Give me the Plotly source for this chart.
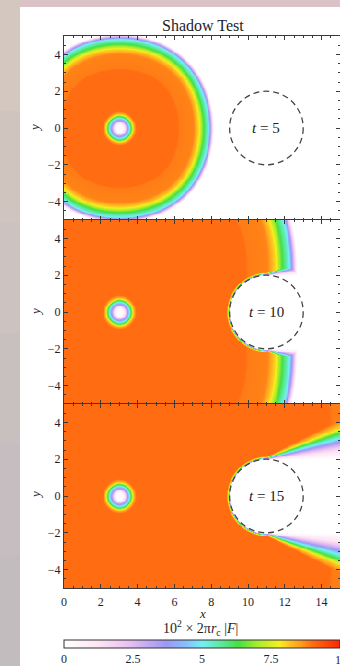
import numpy as np
import plotly.graph_objects as go
from plotly.subplots import make_subplots

# ---------------- data ----------------
times = [5, 10, 15]
panel_text = ["<i>t</i> = 5", "<i>t</i> = 10", "<i>t</i> = 15"]
x_ticks = [0, 2, 4, 6, 8, 10, 12, 14]
y_ticks = [-4, -2, 0, 2, 4]
cbar_ticks = [0, 2.5, 5, 7.5, 10]
cbar_labels = ["0", "2.5", "5", "7.5", "10"]

source_center = [3.0, 0.0]
occluder_center = [11.0, 0.0]
occluder_radius = 2.0

# radiation front (distance from source) for each time
front_radius = [5.12, 9.65, 15.0]
front_diag_excess = [0.12, 1.35, 2.0]
front_width = [1.0, 1.5, 1.9]

# level profile behind the front: depth behind front -> level
front_depth = [0.0, 0.05, 0.15, 0.28, 0.55, 0.82, 0.98, 1.1, 1.85, 1.95]
front_level = [0.0, 1.2, 3.0, 5.0, 6.3, 8.0, 8.45, 8.8, 8.86, 9.0]

# level profile around the source: distance -> level
source_dist = [0.0, 0.2, 0.3, 0.42, 0.54, 0.64, 0.74, 0.82, 0.92]
source_level = [0.0, 0.3, 1.5, 3.5, 5.0, 6.3, 8.0, 8.6, 9.0]

# edge of the occluding disc: gap outside the disc -> level
occluder_gap = [0.0, 0.04, 0.08, 0.12, 0.18]
occluder_level = [0.0, 3.0, 6.0, 8.0, 9.0]

# penumbra behind the disc: slope seen from the tangent point -> level
tangent_point = [10.6, 1.95]
shadow_slope = [0.0, 0.03, 0.12, 0.21, 0.275, 0.34, 0.404, 0.507]
shadow_level = [0.0, 0.2, 1.3, 3.2, 5.0, 6.3, 8.0, 9.0]

# ---------------- field on a grid ----------------
xg = np.linspace(0, 15, 301)
yg = np.linspace(-5, 5, 201)
X, Y = np.meshgrid(xg, yg)


def field(i):
    dx = X - source_center[0]
    dy = Y - source_center[1]
    r = np.hypot(dx, dy)
    th = np.arctan2(np.abs(dy), dx)
    R = front_radius[i] + front_diag_excess[i] * np.sin(2 * th) ** 2
    d = (R - r) / front_width[i]
    v_front = np.interp(d, front_depth, front_level, left=0.0)
    v_src = np.interp(r, source_dist, source_level)
    gap = np.hypot(X - occluder_center[0], Y - occluder_center[1]) - occluder_radius
    v_occ = np.interp(gap, occluder_gap, occluder_level, left=0.0)
    behind = X > tangent_point[0]
    s = (np.abs(Y) - tangent_point[1]) / np.maximum(X - tangent_point[0], 1e-6)
    v_sh = np.where(behind, np.interp(s, shadow_slope, shadow_level, left=0.0), 9.0)
    return np.round(np.minimum.reduce([v_front, v_src, v_occ, v_sh]), 2)


colorscale = [
    [0.00, "#ffffff"],
    [0.12, "#fde6f6"],
    [0.22, "#efc6f2"],
    [0.30, "#c6aaf2"],
    [0.37, "#9c98f6"],
    [0.45, "#86c4fc"],
    [0.50, "#72f0f4"],
    [0.57, "#5ce89c"],
    [0.63, "#44e044"],
    [0.70, "#a8ec2c"],
    [0.78, "#f6f01c"],
    [0.82, "#ffc020"],
    [0.86, "#ff9a1c"],
    [0.90, "#ff6c12"],
    [1.00, "#ff2400"],
]

fig = make_subplots(rows=3, cols=1, shared_xaxes=True, vertical_spacing=0)

serif = "Liberation Serif"
for i, t in enumerate(times):
    fig.add_trace(
        go.Heatmap(x=xg, y=yg, z=field(i), coloraxis="coloraxis",
                   zsmooth="best", hoverinfo="skip"),
        row=i + 1, col=1)
    fig.add_shape(type="circle", x0=occluder_center[0] - occluder_radius,
                  x1=occluder_center[0] + occluder_radius,
                  y0=occluder_center[1] - occluder_radius,
                  y1=occluder_center[1] + occluder_radius,
                  line=dict(color="#444444", width=1.3, dash="6px,4px"),
                  row=i + 1, col=1)
    fig.add_annotation(x=occluder_center[0], y=occluder_center[1], text=panel_text[i],
                       showarrow=False,
                       font=dict(family=serif, size=15, color="#222222"),
                       row=i + 1, col=1)

axis_common = dict(showline=True, linecolor="#3a3a3a", linewidth=1, mirror="ticks",
                   ticks="inside", ticklen=4, tickcolor="#3a3a3a", showgrid=False,
                   zeroline=False,
                   tickfont=dict(family=serif, size=12, color="#1e1e30"))

for i in range(3):
    fig.update_xaxes(range=[0, 15], tickvals=x_ticks,
                     minor=dict(dtick=0.5, ticks="inside", ticklen=2, tickcolor="#3a3a3a"),
                     showticklabels=(i == 2), ticklabelstandoff=3,
                     row=i + 1, col=1, **axis_common)
    fig.update_yaxes(range=[-5, 5], tickvals=y_ticks,
                     minor=dict(dtick=0.5, ticks="inside", ticklen=2, tickcolor="#3a3a3a"),
                     row=i + 1, col=1, **axis_common)

W, H = 340, 666
ml, mr, mt, mb = 64, 0, 36, 78
pw, ph = W - ml - mr, H - mt - mb


def px(xp):
    return (xp - ml) / pw


def py(yp):
    return (H - mb - yp) / ph


# page: grey-beige border, white sheet
shapes = []
left_cols = ["#d4c7bf", "#d0c4bf", "#ccc2bf", "#c8bfbf", "#c5bdbf", "#c3bcbf"]
for k, c in enumerate(left_cols):
    shapes.append(dict(type="rect", xref="paper", yref="paper",
                       x0=px(-5), x1=px(20),
                       y0=py(k * H / len(left_cols) + H / len(left_cols)),
                       y1=py(k * H / len(left_cols)),
                       fillcolor=c, line=dict(width=0), layer="below"))
shapes.append(dict(type="rect", xref="paper", yref="paper",
                   x0=px(20), x1=px(345), y0=py(7), y1=py(-5),
                   fillcolor="#dbc2c7", line=dict(width=0), layer="below"))
shapes.append(dict(type="rect", xref="paper", yref="paper",
                   x0=px(20), x1=px(345), y0=py(670), y1=py(7),
                   fillcolor="#ffffff", line=dict(width=0), layer="below"))
for s in shapes:
    fig.add_shape(**s)

fig.add_annotation(xref="paper", yref="paper", x=px(203), y=py(25), text="Shadow Test",
                   xanchor="center", yanchor="middle",
                   showarrow=False, font=dict(family=serif, size=16, color="#1e1e28"))
for yc in [128, 312, 495]:
    fig.add_annotation(xref="paper", yref="paper", x=px(35), y=py(yc), text="<i>y</i>",
                       xanchor="center", yanchor="middle",
                       textangle=-90, showarrow=False,
                       font=dict(family=serif, size=13, color="#1e1e30"))
fig.add_annotation(xref="paper", yref="paper", x=px(202), y=py(613), text="<i>x</i>",
                   xanchor="center", yanchor="middle",
                   showarrow=False, font=dict(family=serif, size=13, color="#1e1e30"))
fig.add_annotation(xref="paper", yref="paper", x=px(200), y=py(628),
                   text="10<sup>2</sup> × 2π<i>r</i><sub>c</sub> |<i>F</i>|",
                   xanchor="center", yanchor="middle",
                   showarrow=False, font=dict(family=serif, size=14, color="#1e1e28"))
# last colour-bar label, which sits on the right edge of the picture
fig.add_annotation(xref="paper", yref="paper", x=px(341), y=py(660), text=cbar_labels[-1],
                   xanchor="center", yanchor="middle", showarrow=False,
                   font=dict(family=serif, size=12, color="#1e1e30"))

fig.update_layout(
    width=W, height=H,
    margin=dict(l=ml, r=mr, t=mt, b=mb, pad=0),
    paper_bgcolor="#cbc1be", plot_bgcolor="#ffffff",
    showlegend=False,
    coloraxis=dict(
        colorscale=colorscale, cmin=0, cmax=10,
        colorbar=dict(orientation="h", x=0, xanchor="left", y=py(640), yanchor="top",
                      len=1.0, lenmode="fraction", thickness=8, thicknessmode="pixels",
                      xpad=0, ypad=0, outlinewidth=1, outlinecolor="#333333",
                      tickvals=cbar_ticks[:-1], ticktext=cbar_labels[:-1], ticks="",
                      tickfont=dict(family=serif, size=12, color="#1e1e30")),
    ),
)

fig.write_html("out.html", include_plotlyjs=True, config={"displayModeBar": False})
